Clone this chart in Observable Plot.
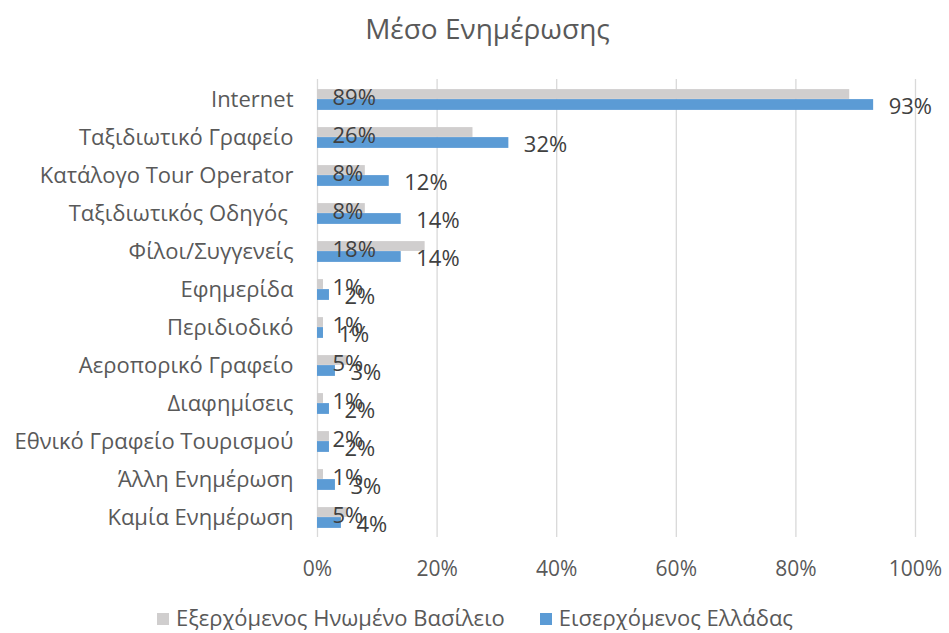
<!DOCTYPE html>
<html><head><meta charset="utf-8">
<script src="https://cdn.jsdelivr.net/npm/d3@7"></script>
<script src="https://cdn.jsdelivr.net/npm/@observablehq/plot@0.6"></script>
<style>
body{margin:0;background:#fff;font-family:"Open Sans",sans-serif;color:#595959;}
#title{height:60px;line-height:56px;text-align:center;font-size:28px;padding-left:26px;}
#legend{display:flex;gap:35px;justify-content:flex-start;padding-left:157px;margin-top:22px;font-size:22px;line-height:26px;}
#legend span.sw{display:inline-block;width:12px;height:12px;margin-right:7px;vertical-align:middle;position:relative;top:-1px;}
</style></head><body>
<div id="title">Μέσο Ενημέρωσης</div>
<div id="chart"></div>
<div id="legend"></div>
<script>
const categories = ["Internet","Ταξιδιωτικό Γραφείο","Κατάλογο Tour Operator","Ταξιδιωτικός Οδηγός ","Φίλοι/Συγγενείς","Εφημερίδα","Περιδιοδικό","Αεροπορικό Γραφείο","Διαφημίσεις","Εθνικό Γραφείο Τουρισμού","Άλλη Ενημέρωση","Καμία Ενημέρωση"];
const ukValues = [0.89,0.26,0.08,0.08,0.18,0.01,0.01,0.05,0.01,0.02,0.01,0.05];
const grValues = [0.93,0.32,0.12,0.14,0.14,0.02,0.01,0.03,0.02,0.02,0.03,0.04];
const seriesNames = ["Εξερχόμενος Ηνωμένο Βασίλειο","Εισερχόμενος Ελλάδας"];
const seriesColors = ["#d0cece","#5b9bd5"];
const xTicks = [0,0.2,0.4,0.6,0.8,1];

const uk = categories.map((c,i)=>({cat:c, v:ukValues[i]}));
const gr = categories.map((c,i)=>({cat:c, v:grValues[i]}));
const pct = d => Math.round(d.v*100)+"%";

const chart = Plot.plot({
  width:949, height:522,
  marginLeft:317, marginRight:34, marginTop:19, marginBottom:45,
  style:{fontFamily:"Open Sans, sans-serif", color:"#595959", fontSize:"20px", background:"#fff"},
  x:{domain:[0,1], ticks:xTicks, tickFormat:d=>Math.round(d*100)+"%", tickSize:0, tickPadding:24},
  y:{domain:categories, padding:0, tickSize:0, tickPadding:24},
  marks:[
    Plot.gridX(xTicks,{stroke:"#d9d9d9", strokeOpacity:1, strokeWidth:1.3}),
    Plot.barX(uk,{x:"v", y:"cat", fill:seriesColors[0], insetTop:9.1, insetBottom:19.1}),
    Plot.barX(gr,{x:"v", y:"cat", fill:seriesColors[1], insetTop:19.1, insetBottom:8.1}),
    Plot.text(uk,{x:0, y:"cat", text:pct, dx:15, dy:-2, textAnchor:"start", fontSize:22, fill:"#404040"}),
    Plot.text(gr,{x:"v", y:"cat", text:pct, dx:15, dy:7, textAnchor:"start", fontSize:22, fill:"#404040"}),
    Plot.axisX({ticks:xTicks, tickFormat:d=>Math.round(d*100)+"%", tickSize:0, tickPadding:24, fontSize:21, label:null}),
    Plot.axisY({tickSize:0, tickPadding:24, fontSize:22, label:null})
  ]
});
document.getElementById("chart").appendChild(chart);

const lg = document.getElementById("legend");
seriesNames.forEach((n,i)=>{
  const d=document.createElement("div");
  d.innerHTML=`<span class="sw" style="background:${seriesColors[i]}"></span>${n}`;
  lg.appendChild(d);
});
</script>
</body></html>
